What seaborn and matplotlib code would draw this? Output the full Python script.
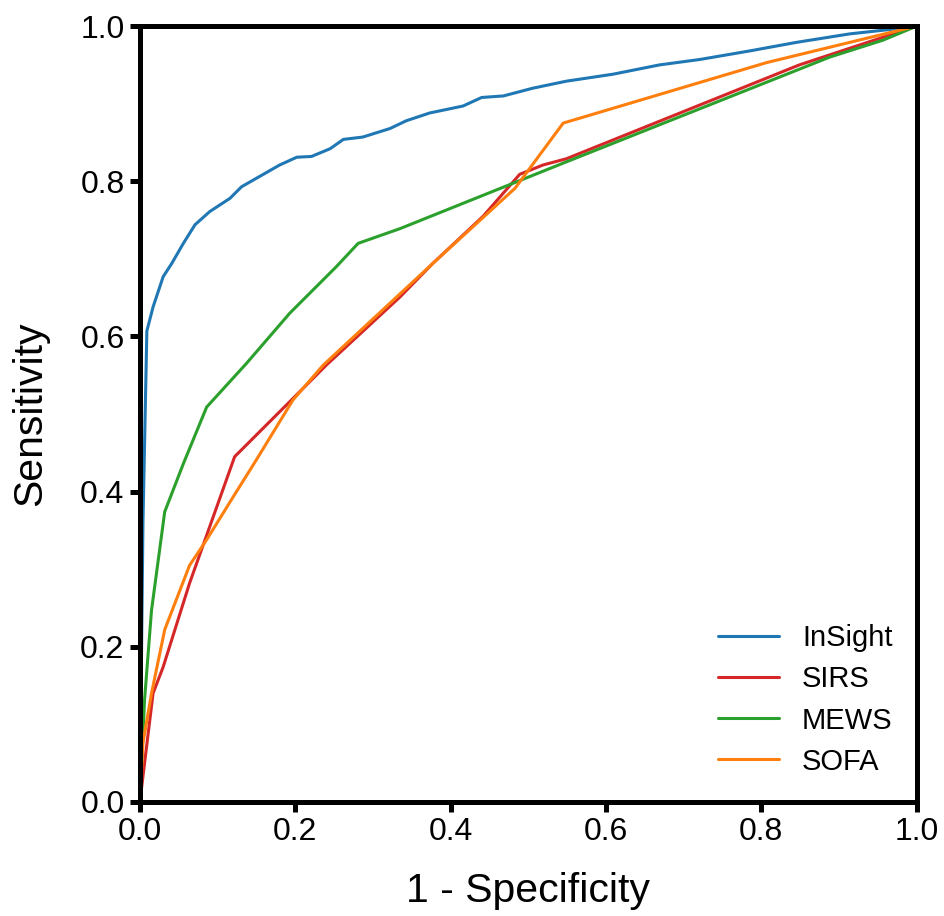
import pandas as pd
import matplotlib
matplotlib.use("Agg")
import matplotlib.pyplot as plt
import seaborn as sns

# ROC curves (x = 1 - specificity, y = sensitivity)
insight_x = [0.0, 0.004, 0.009, 0.017, 0.030, 0.041, 0.056, 0.071, 0.090, 0.116, 0.131,
             0.159, 0.180, 0.202, 0.221, 0.245, 0.262, 0.287, 0.322, 0.343, 0.373,
             0.416, 0.440, 0.468, 0.506, 0.549, 0.609, 0.669, 0.721, 0.785, 0.845,
             0.914, 0.987, 1.0]
insight_y = [0.0, 0.36, 0.607, 0.638, 0.677, 0.694, 0.720, 0.744, 0.761, 0.778, 0.793,
             0.809, 0.821, 0.831, 0.832, 0.842, 0.854, 0.857, 0.868, 0.878, 0.888,
             0.897, 0.908, 0.910, 0.920, 0.929, 0.938, 0.950, 0.957, 0.968, 0.979,
             0.990, 0.998, 1.0]

sirs_x = [0.0, 0.004, 0.017, 0.030, 0.064, 0.090, 0.122, 0.240, 0.335,
          0.377, 0.442, 0.489, 0.519, 0.549, 0.849, 1.0]
sirs_y = [0.0, 0.033, 0.140, 0.174, 0.282, 0.355, 0.445, 0.563, 0.651,
          0.694, 0.755, 0.809, 0.821, 0.829, 0.950, 1.0]

mews_x = [0.0, 0.006, 0.015, 0.032, 0.056, 0.086, 0.137, 0.193, 0.253, 0.281, 0.335,
          0.549, 0.888, 0.957, 1.0]
mews_y = [0.0, 0.131, 0.247, 0.374, 0.436, 0.509, 0.565, 0.630, 0.690, 0.720, 0.739,
          0.825, 0.960, 0.982, 1.0]

sofa_x = [0.0, 0.004, 0.015, 0.032, 0.064, 0.086, 0.120, 0.150, 0.197, 0.236, 0.335,
          0.377, 0.483, 0.545, 0.807, 1.0]
sofa_y = [0.0, 0.076, 0.140, 0.222, 0.305, 0.338, 0.393, 0.441, 0.518, 0.563, 0.655,
          0.694, 0.791, 0.875, 0.953, 1.0]

models = ["InSight", "SIRS", "MEWS", "SOFA"]
colors = ["#1f77b4", "#d62728", "#2ca02c", "#ff7f0e"]
ticks = [0.0, 0.2, 0.4, 0.6, 0.8, 1.0]

frames = []
for name, xs, ys in zip(models, [insight_x, sirs_x, mews_x, sofa_x],
                        [insight_y, sirs_y, mews_y, sofa_y]):
    frames.append(pd.DataFrame({"fpr": xs, "tpr": ys, "Model": name}))
roc = pd.concat(frames, ignore_index=True)

sns.set_style("white")
plt.rcParams['font.family'] = ['Liberation Sans', 'DejaVu Sans']
plt.rcParams['text.color'] = 'black'
plt.rcParams['axes.labelcolor'] = 'black'

fig = plt.figure(figsize=(9.45, 9.16), dpi=100)
ax = fig.add_axes([0.148, 0.1245, 0.822, 0.847])

sns.lineplot(data=roc, x="fpr", y="tpr", hue="Model", hue_order=models,
             palette=colors, linewidth=2.2, sort=False, estimator=None, ax=ax)

ax.set_xlim(0, 1)
ax.set_ylim(0, 1)
ax.set_xticks(ticks)
ax.set_yticks(ticks)
ax.set_xticklabels([f"{t:.1f}" for t in ticks])
ax.set_yticklabels([f"{t:.1f}" for t in ticks])
ax.tick_params(axis="both", direction="out", length=7, width=3.6, labelsize=23,
               color="black", labelcolor="black", pad=4, bottom=True, left=True)
for side in ax.spines.values():
    side.set_linewidth(3.6)
    side.set_color("black")

ax.set_xlabel("1 - Specificity", fontsize=29.5, labelpad=18, color="black")
ax.set_ylabel("Sensitivity", fontsize=29.5, labelpad=22, color="black")

leg = ax.legend(loc="lower right", bbox_to_anchor=(1.003, 0.0), frameon=False, fontsize=21,
                handlelength=2.1, handletextpad=0.8, labelspacing=0.45)
for txt in leg.get_texts():
    txt.set_color("black")

fig.savefig("out.png", dpi=100)
